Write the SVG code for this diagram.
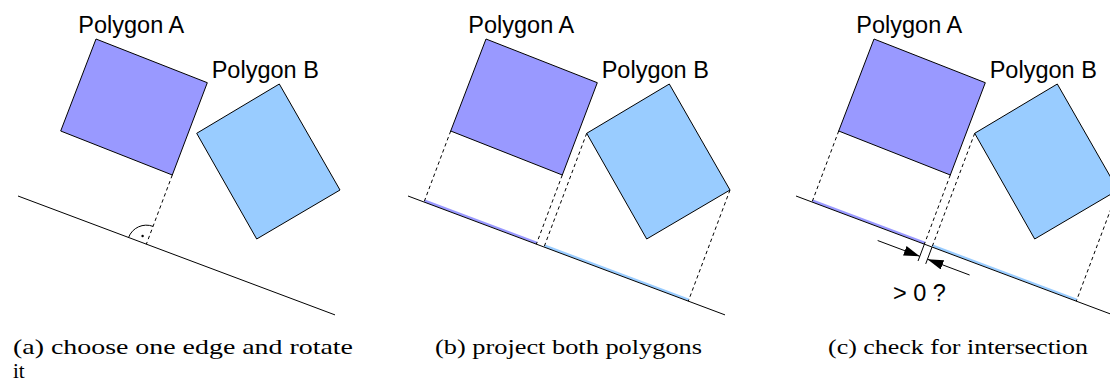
<svg xmlns="http://www.w3.org/2000/svg" width="1110" height="381" viewBox="0 0 1110 381">
<style>
.polyA{fill:#9999ff;stroke:#000;stroke-width:1}
.polyB{fill:#99ccff;stroke:#000;stroke-width:1}
.axis{stroke:#000;stroke-width:1;fill:none}
.dash{stroke:#000;stroke-width:1;stroke-dasharray:3.5,3;fill:none}
.projA{stroke:#9999ff;stroke-width:2.5;fill:none}
.projB{stroke:#99ccff;stroke-width:2.5;fill:none}
.thin{stroke:#000;stroke-width:1;fill:none}
.lbl{font-family:"Liberation Sans",Arial,sans-serif;font-size:23.5px;fill:#000}
.cap{font-family:"Liberation Serif","Times New Roman",serif;font-size:21px;fill:#000}
</style>
<defs>
<marker id="arr" markerUnits="userSpaceOnUse" markerWidth="17" markerHeight="11" refX="16" refY="5" orient="auto">
<path d="M0,0 L16,5 L0,10 z" fill="#000"/>
</marker>
</defs>
<rect width="1110" height="381" fill="#fff"/>

<!-- Panel a -->
<g id="panel-a">
<g id="a-polygonA"><polygon class="polyA" points="96,39 207.3,82.7 172.3,175 60.7,131"/><text class="lbl" x="78.3" y="33">Polygon A</text></g>
<g id="a-polygonB"><polygon class="polyB" points="279.3,84 340,190 256.7,239 196.7,133.3"/><text class="lbl" x="211.7" y="78.3">Polygon B</text></g>
<g id="a-axis"><line class="axis" x1="18" y1="196" x2="335" y2="314.9"/></g>
<g id="a-connectors">
<line class="dash" x1="172.3" y1="175" x2="146.36" y2="244.15"/>
<path class="thin" d="M128.57,237.48 A19,19 0 0 1 153.03,226.36"/>
<circle cx="142.6" cy="236" r="1.2" fill="#000"/>
</g>
</g>

<!-- Panel b -->
<g id="panel-b" transform="translate(390,0)">
<g id="b-polygonA"><polygon class="polyA" points="96,39 207.3,82.7 172.3,175 60.7,131"/><text class="lbl" x="78.3" y="33">Polygon A</text></g>
<g id="b-polygonB"><polygon class="polyB" points="279.3,84 340,190 256.7,239 196.7,133.3"/><text class="lbl" x="211.7" y="78.3">Polygon B</text></g>
<g id="b-connectors">
<line class="projA" x1="34.55" y1="200.71" x2="146.85" y2="242.84"/>
<line class="projB" x1="154.53" y1="245.72" x2="298.79" y2="299.83"/>
<line class="axis" x1="18" y1="196" x2="335" y2="314.9"/>
<line class="dash" x1="60.7" y1="131" x2="34.06" y2="202.02"/>
<line class="dash" x1="172.3" y1="175" x2="146.36" y2="244.15"/>
<line class="dash" x1="196.7" y1="133.3" x2="154.04" y2="247.03"/>
<line class="dash" x1="340" y1="190" x2="298.3" y2="301.14"/>
</g>
</g>

<!-- Panel c -->
<g id="panel-c" transform="translate(778,0)">
<g id="c-polygonA"><polygon class="polyA" points="96,39 207.3,82.7 172.3,175 60.7,131"/><text class="lbl" x="78.3" y="33">Polygon A</text></g>
<g id="c-polygonB"><polygon class="polyB" points="279.3,84 340,190 256.7,239 196.7,133.3"/><text class="lbl" x="211.7" y="78.3">Polygon B</text></g>
<g id="c-connectors">
<line class="projA" x1="34.55" y1="200.71" x2="146.85" y2="242.84"/>
<line class="projB" x1="154.53" y1="245.72" x2="298.79" y2="299.83"/>
<line class="axis" x1="18" y1="196" x2="340" y2="316.8"/>
<line class="dash" x1="60.7" y1="131" x2="34.06" y2="202.02"/>
<line class="dash" x1="172.3" y1="175" x2="146.36" y2="244.15"/>
<line class="dash" x1="196.7" y1="133.3" x2="154.04" y2="247.03"/>
<line class="dash" x1="340" y1="190" x2="298.3" y2="301.14"/>
<line class="thin" x1="146.36" y1="244.15" x2="140.04" y2="261"/>
<line class="thin" x1="154.04" y1="247.03" x2="147.72" y2="263.88"/>
<line class="thin" x1="99.66" y1="240.52" x2="141.79" y2="256.32" marker-end="url(#arr)"/>
<line class="thin" x1="191.6" y1="275" x2="149.47" y2="259.2" marker-end="url(#arr)"/>
</g>
<text class="lbl" x="115" y="301">&gt; 0 ?</text>
</g>

<!-- Captions -->
<g id="captions">
<text class="cap" x="13" y="354" textLength="340" lengthAdjust="spacingAndGlyphs">(a) choose one edge and rotate</text>
<text class="cap" x="13" y="377.5">it</text>
<text class="cap" x="435" y="354" textLength="267" lengthAdjust="spacingAndGlyphs">(b) project both polygons</text>
<text class="cap" x="828" y="354" textLength="260" lengthAdjust="spacingAndGlyphs">(c) check for intersection</text>
</g>
</svg>
